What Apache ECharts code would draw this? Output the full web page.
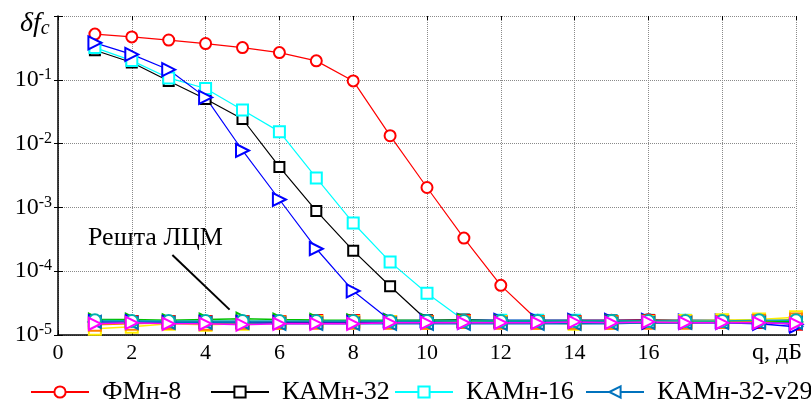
<!DOCTYPE html>
<html>
<head>
<meta charset="utf-8">
<script src="https://cdn.jsdelivr.net/npm/echarts@6/dist/echarts.min.js"></script>
<style>
html,body{margin:0;padding:0;background:#fff;}
#chart{width:811px;height:403px;}
</style>
</head>
<body>
<div id="chart"></div>
<script>
// ---- data ----
const q = [1,2,3,4,5,6,7,8,9,10,11,12,13,14,15,16,17,18,19,20];
const xTicks = [0,2,4,6,8,10,12,14,16];
const fmn8 = [0.52,0.47,0.42,0.37,0.32,0.267,0.198,0.096,0.0133,0.00205,3.3e-4,6.0e-5,1.7e-5,1.7e-5,1.7e-5,1.75e-5,1.7e-5,1.7e-5,1.7e-5,1.65e-5];
const kam32 = [0.29,0.187,0.096,0.05,0.0243,0.0043,8.8e-4,2.1e-4,5.8e-5,1.7e-5,1.75e-5,1.7e-5,1.7e-5,1.7e-5,1.7e-5,1.7e-5,1.7e-5,1.7e-5,1.65e-5,1.6e-5];
const kam16 = [0.32,0.2,0.107,0.073,0.0336,0.0154,0.0029,5.7e-4,1.4e-4,4.5e-5,1.7e-5,1.7e-5,1.7e-5,1.7e-5,1.65e-5,1.7e-5,1.7e-5,1.7e-5,1.7e-5,1.65e-5];
const kam32blue = [0.38,0.25,0.144,0.053,0.0078,0.00133,2.25e-4,4.9e-5,1.7e-5,1.7e-5,1.7e-5,1.7e-5,1.7e-5,1.7e-5,1.7e-5,1.7e-5,1.65e-5,1.65e-5,1.6e-5,1.45e-5];
const kam32v29 = [1.6e-5,1.55e-5,1.55e-5,1.55e-5,1.55e-5,1.5e-5,1.5e-5,1.5e-5,1.5e-5,1.5e-5,1.5e-5,1.5e-5,1.5e-5,1.5e-5,1.5e-5,1.55e-5,1.55e-5,1.55e-5,1.55e-5,1.55e-5];
// "Решта ЛЦМ" (rest of the sequences)
const rest1 = [1.55e-5,1.6e-5,1.6e-5,1.6e-5,1.6e-5,1.6e-5,1.65e-5,1.65e-5,1.6e-5,1.6e-5,1.65e-5,1.6e-5,1.6e-5,1.6e-5,1.6e-5,1.65e-5,1.6e-5,1.6e-5,1.6e-5,1.5e-5];
const rest2 = [1.75e-5,1.75e-5,1.7e-5,1.75e-5,1.8e-5,1.75e-5,1.72e-5,1.7e-5,1.7e-5,1.7e-5,1.7e-5,1.65e-5,1.65e-5,1.65e-5,1.65e-5,1.65e-5,1.62e-5,1.62e-5,1.65e-5,1.6e-5];
const rest3 = [1.5e-5,1.55e-5,1.5e-5,1.5e-5,1.45e-5,1.5e-5,1.5e-5,1.5e-5,1.55e-5,1.55e-5,1.55e-5,1.55e-5,1.55e-5,1.6e-5,1.55e-5,1.6e-5,1.55e-5,1.55e-5,1.55e-5,1.5e-5];
const rest4 = [1.25e-5,1.35e-5,1.5e-5,1.45e-5,1.5e-5,1.55e-5,1.6e-5,1.6e-5,1.6e-5,1.55e-5,1.6e-5,1.6e-5,1.55e-5,1.5e-5,1.55e-5,1.6e-5,1.65e-5,1.7e-5,1.75e-5,1.9e-5];
const rest5 = [1.65e-5,1.65e-5,1.6e-5,1.6e-5,1.6e-5,1.6e-5,1.6e-5,1.6e-5,1.6e-5,1.6e-5,1.55e-5,1.6e-5,1.6e-5,1.6e-5,1.6e-5,1.55e-5,1.55e-5,1.55e-5,1.5e-5,1.35e-5];
const rest6 = [1.45e-5,1.5e-5,1.55e-5,1.5e-5,1.55e-5,1.55e-5,1.55e-5,1.55e-5,1.55e-5,1.55e-5,1.6e-5,1.55e-5,1.55e-5,1.55e-5,1.55e-5,1.55e-5,1.55e-5,1.6e-5,1.65e-5,1.75e-5];
const rest8 = [1.7e-5,1.65e-5,1.65e-5,1.65e-5,1.65e-5,1.65e-5,1.65e-5,1.65e-5,1.65e-5,1.65e-5,1.65e-5,1.65e-5,1.65e-5,1.65e-5,1.65e-5,1.65e-5,1.65e-5,1.65e-5,1.7e-5,1.7e-5];
const legendNames = ['ФМн-8','КАМн-32','КАМн-16','КАМн-32-v29'];
const annotationText = 'Решта ЛЦМ';
const arrowFrom = [3.1, 1.8e-4];
const arrowTo = [4.65, 2.5e-5];

const FONT = 'Liberation Serif';
const pairs = arr => q.map((x,i)=>[x,arr[i]]);

function mainSeries(name, arr, color, symbol, size, rot){
  return {
    name, type:'line', data:pairs(arr), symbol, symbolSize:size, symbolRotate:rot||0,
    lineStyle:{color, width:1.2}, itemStyle:{color, borderColor:color, borderWidth:1.2},
    emphasis:{disabled:true}, z:2
  };
}
function restSeries(name, arr, color, symbol, rot){
  return {
    name, type:'line', data:pairs(arr), symbol, symbolSize:12, symbolRotate:rot||0,
    lineStyle:{color, width:1.5}, itemStyle:{color, borderColor:color, borderWidth:1.5},
    emphasis:{disabled:true}, z:3
  };
}
function legendAt(name, left){
  return {
    data:[name], left, top:379, padding:0, itemWidth:58, itemHeight:14, symbolRotate:'inherit',
    selectedMode:false,
    textStyle:{fontFamily:FONT, fontSize:26, color:'#000', padding:[0,0,0,8]}
  };
}

const chart = echarts.init(document.getElementById('chart'));
const option = {
  animation:false,
  backgroundColor:'#fff',
  grid:{left:58, right:15, top:16, bottom:68},
  xAxis:[{
    type:'value', min:0, max:20, interval:2,
    axisLine:{show:true, onZero:false, lineStyle:{color:'#000', width:1.5}},
    axisTick:{show:true, inside:true, length:5, lineStyle:{color:'#000'}},
    axisLabel:{fontFamily:FONT, fontSize:22, color:'#000', margin:7,
      formatter:v => xTicks.indexOf(v)>=0 ? String(v) : ''},
    splitLine:{show:true, lineStyle:{color:'#8a8a8a', type:[1,1], width:1}}
  },{
    type:'value', min:0, max:20, interval:2, position:'top',
    axisLine:{show:false}, axisLabel:{show:false},
    axisTick:{show:true, inside:true, length:4, lineStyle:{color:'#000'}},
    splitLine:{show:false}
  }],
  yAxis:[{
    type:'log', logBase:10, min:1e-5, max:1,
    axisLine:{show:true, lineStyle:{color:'#000', width:1.5}},
    axisTick:{show:true, inside:true, length:5, lineStyle:{color:'#000'}},
    axisLabel:{margin:6, color:'#000',
      formatter:v => { const e=Math.round(Math.log10(v)); return e===0 ? '' : '{b|10}{s|'+e+'}'; },
      rich:{b:{fontFamily:FONT, fontSize:24, color:'#000'}, s:{fontFamily:FONT, fontSize:16, color:'#000', verticalAlign:'top', padding:[0,0,10,0]}}},
    splitLine:{show:true, lineStyle:{color:'#8a8a8a', type:[1,1], width:1}},
    minorTick:{show:false}
  },{
    type:'log', logBase:10, min:1e-5, max:1, position:'right',
    axisLine:{show:false}, axisLabel:{show:false},
    axisTick:{show:true, inside:true, length:4, lineStyle:{color:'#000'}},
    splitLine:{show:false}
  }],
  legend:[
    legendAt(legendNames[0], 30),
    legendAt(legendNames[1], 210),
    legendAt(legendNames[2], 394),
    legendAt(legendNames[3], 585)
  ],
  graphic:[
    {type:'text', left:20, top:10, style:{rich:{a:{fontFamily:FONT, fontStyle:'italic', fontSize:28, fill:'#000'}, c:{fontFamily:FONT, fontStyle:'italic', fontSize:20, fill:'#000', verticalAlign:'bottom', padding:[10,0,0,0]}}, text:'{a|δf}{c|c}'}},
    {type:'text', left:752, top:341, style:{text:'q, дБ', fontFamily:FONT, fontSize:24, fill:'#000'}},
    {type:'text', left:88, top:225, style:{text:annotationText, fontFamily:FONT, fontSize:26, fill:'#000'}}
  ],
  series:[
    mainSeries(legendNames[0], fmn8, '#ff0000', 'emptyCircle', 11),
    mainSeries(legendNames[1], kam32, '#000000', 'emptyRect', 10),
    mainSeries(legendNames[2], kam16, '#00ffff', 'emptyRect', 11),
    Object.assign(mainSeries('КАМн-32 (сплошна)', kam32blue, '#0000ff', 'emptyTriangle', 13, -90), {
      markLine:{silent:true, symbol:['none','arrow'], symbolSize:[0,13],
        lineStyle:{color:'#000', width:2, type:'solid'}, label:{show:false},
        data:[[{coord:arrowFrom},{coord:arrowTo}]]}
    }),
    restSeries('r1', rest1, '#ff0000', 'emptyRect'),
    restSeries('r2', rest2, '#00c000', 'emptyTriangle', -90),
    restSeries('r4', rest4, '#ffee00', 'emptyRect'),
    restSeries('r6', rest6, '#ff8000', 'emptyRect'),
    restSeries('r5', rest5, '#0000ff', 'emptyTriangle', -90),
    restSeries(legendNames[3], kam32v29, '#0072BD', 'emptyTriangle', 90),
    restSeries('r8', rest8, '#00b0b0', 'emptyCircle'),
    restSeries('r3', rest3, '#ff00ff', 'emptyTriangle', -90)
  ]
};
chart.setOption(option);
</script>
</body>
</html>
